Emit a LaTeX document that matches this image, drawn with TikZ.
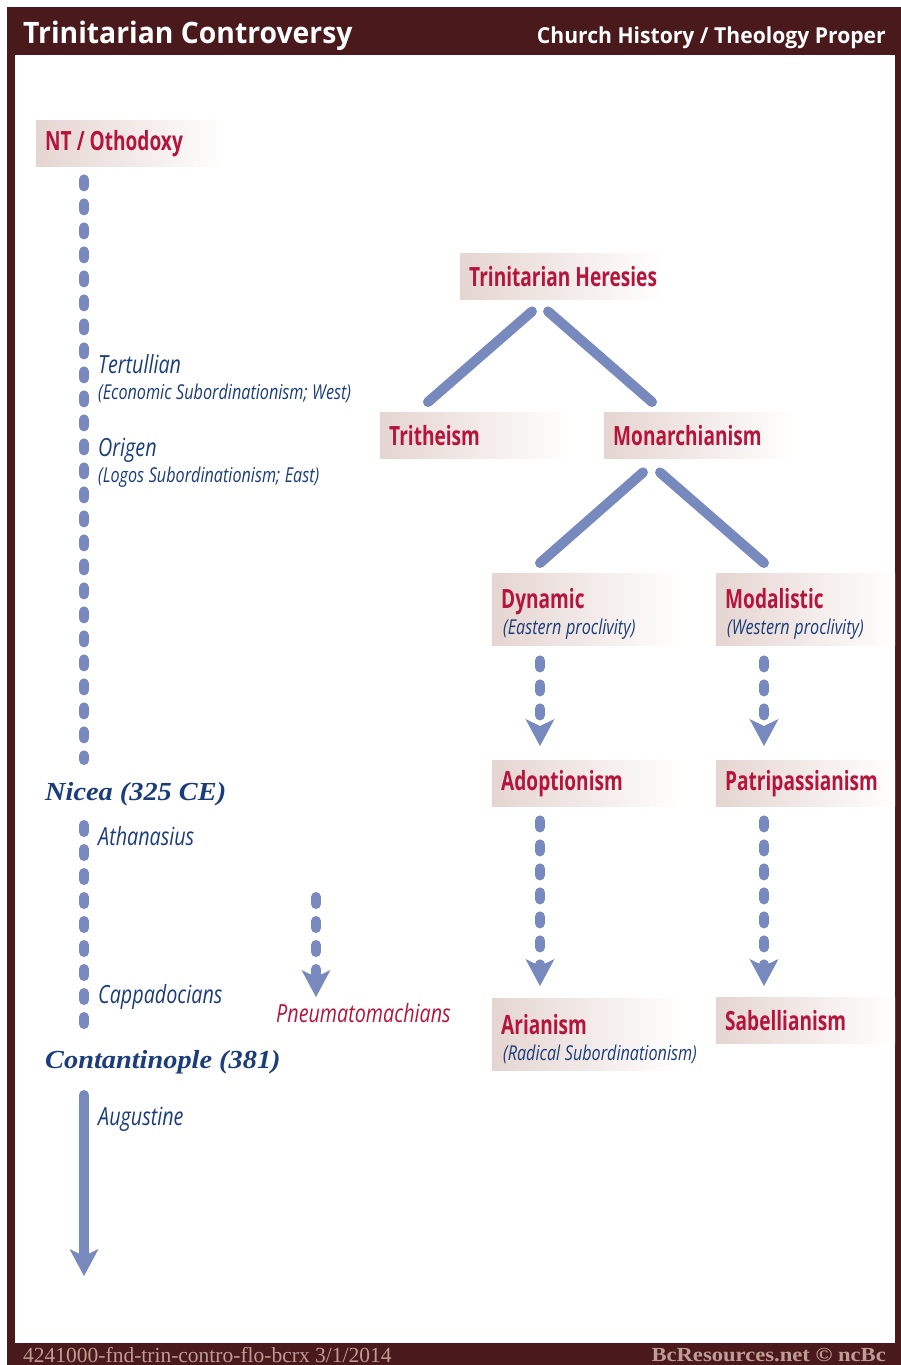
\documentclass[tikz,border=0pt]{standalone}
\usepackage{fontspec}
\usetikzlibrary{arrows.meta}
\newfontfamily\hdf[FakeStretch=0.96]{Open Sans}
\newfontfamily\cnf[FakeStretch=0.72]{Open Sans}
\newfontfamily\itf[FakeStretch=0.79]{Open Sans}
\newfontfamily\srf[FakeStretch=1.09]{Liberation Serif}
\newfontfamily\ftf{Liberation Serif}
\newfontfamily\ftg[FakeStretch=1.13]{Liberation Serif}
\definecolor{maroon}{HTML}{4A191C}
\definecolor{hered}{HTML}{B5153C}
\definecolor{txblue}{HTML}{1B3D7B}
\definecolor{dotc}{HTML}{7889BD}
\definecolor{boxl}{HTML}{E5D5D0}
\definecolor{foot}{HTML}{BF9C94}
\newcommand\labf{\cnf\bfseries\fontsize{26.5}{28}\selectfont}
\newcommand\subf{\itf\mdseries\itshape\fontsize{20.5}{25}\selectfont\spaceskip=4.6pt plus 1pt\color{txblue}}
\newcommand\namef{\itf\itshape\fontsize{25}{28}\selectfont\spaceskip=5pt plus 1pt}
\newcommand\gap{\hspace{5pt}}
\begin{document}
\begin{tikzpicture}[x=1pt,y=-1pt,
  hbox/.style={rectangle, left color=boxl, right color=white, draw=none, anchor=north west,
    inner xsep=9pt, inner ysep=0pt, minimum height=46pt, text width=#1, align=left,
    font=\labf, text=hered},
  hboxb/.style={hbox=#1, minimum height=72pt},
  bname/.style={anchor=base west, inner sep=0pt, font=\namef, text=txblue},
  bsub/.style={anchor=base west, inner sep=0pt, font=\subf, text=txblue},
  council/.style={anchor=base west, inner sep=0pt, font=\srf\bfseries\itshape\fontsize{26}{28}\selectfont, text=txblue},
  treeline/.style={draw=dotc, line width=10pt, line cap=round},
  dotline/.style={draw=dotc, line width=10pt, line cap=round, dash pattern=on 7pt off 17pt},
  tip/.style={-{Stealth[length=27pt, width=29pt, inset=7pt, line width=0pt]}},
]
\useasboundingbox (0,0) rectangle (901,1365);
\fill[maroon] (7,7) rectangle (901,1365);
\fill[white] (15,55) rectangle (895,1343);

% header / footer
\node[anchor=base west, inner sep=0pt, text=white, font=\hdf\bfseries\fontsize{29.5}{30}\selectfont] (title) at (23,43) {Trinitarian Controversy};
\node[anchor=base east, inner sep=0pt, text=white, font=\hdf\bfseries\fontsize{22}{24}\selectfont] (subject) at (886,43) {Church History / Theology Proper};
\node[anchor=base west, inner sep=0pt, text=foot, font=\ftf\fontsize{21.5}{22}\selectfont] (code) at (23,1362) {4241000-fnd-trin-contro-flo-bcrx 3/1/2014};
\node[anchor=base east, inner sep=0pt, text=foot, font=\ftg\bfseries\fontsize{20}{22}\selectfont] (copy) at (886,1361) {BcResources.net © ncBc};

% boxes
\node[hbox=172pt] (nt) at (36,120) {\mbox{NT\gap/\gap Othodoxy}};
\node[hbox=187pt] (her) at (460,253) {\mbox{Trinitarian\gap Heresies}};
\node[hbox=172pt] (tri) at (380,412) {\mbox{Tritheism}};
\node[hbox=173pt] (mon) at (604,412) {\mbox{Monarchianism}};
\node[hboxb=172pt] (dyn) at (492,573) {\mbox{\rule{0pt}{30pt}Dynamic}\\[-2pt]{\subf\hspace{2pt}\rlap{(Eastern proclivity)}}};
\node[hboxb=161pt] (mod) at (716,573) {\mbox{\rule{0pt}{30pt}Modalistic}\\[-2pt]{\subf\hspace{2pt}\rlap{(Western proclivity)}}};
\node[hbox=172pt] (ado) at (492,760) {\mbox{Adoptionism}};
\node[hbox=161pt] (pat) at (716,760) {\mbox{Patripassianism}};
\node[hboxb=172pt] (ari) at (492,998) {\mbox{\rule{0pt}{30pt}Arianism}\\[-2pt]{\subf\hspace{2pt}\rlap{(Radical Subordinationism)}}};
\node[hbox=161pt] (sab) at (716,997) {\mbox{Sabellianism}};

% left column texts
\node[bname] (tert) at (98,373) {Tertullian};
\node[bsub] (terts) at (98,399) {(Economic Subordinationism; West)};
\node[bname] (orig) at (98,456) {Origen};
\node[bsub] (origs) at (98,482) {(Logos Subordinationism; East)};
\node[council] (nic) at (45,800) {Nicea (325 CE)};
\node[bname] (ath) at (98,845) {Athanasius};
\node[bname] (cap) at (98,1003) {Cappadocians};
\node[bname, text=hered] (pneu) at (276,1022) {Pneumatomachians};
\node[council] (con) at (45,1068) {Contantinople (381)};
\node[bname] (aug) at (98,1125) {Augustine};

% timeline
\coordinate (n1) at (84,760);
\coordinate (n2) at (84,825);
\coordinate (n3) at (84,1024);
\coordinate (n4) at (84,1095);
\coordinate (n5) at (84,1276);
\coordinate (p1) at (316,897);
\coordinate (p2) at (316,997);
\draw[dotline] ([shift={(48,13)}]nt.south west) -- (n1);
\draw[dotline] (n2) -- (n3);
\draw[treeline, tip] (n4) -- (n5);
\draw[dotline, tip] (p1) -- (p2);

% tree
\draw[treeline] ([shift={(72,12)}]her.south west) -- ([shift={(48,-10)}]tri.north west);
\draw[treeline] ([shift={(88,12)}]her.south west) -- ([shift={(48,-10)}]mon.north west);
\draw[treeline] ([shift={(39,14)}]mon.south west) -- ([shift={(48,-10)}]dyn.north west);
\draw[treeline] ([shift={(56,14)}]mon.south west) -- ([shift={(48,-10)}]mod.north west);

% descent arrows
\draw[dotline, tip] ([shift={(48,15)}]dyn.south west) -- ([shift={(48,-14)}]ado.north west);
\draw[dotline, tip] ([shift={(48,15)}]mod.south west) -- ([shift={(48,-14)}]pat.north west);
\draw[dotline, tip] ([shift={(48,14)}]ado.south west) -- ([shift={(48,-12)}]ari.north west);
\draw[dotline, tip] ([shift={(48,14)}]pat.south west) -- ([shift={(48,-11)}]sab.north west);
\end{tikzpicture}
\end{document}
